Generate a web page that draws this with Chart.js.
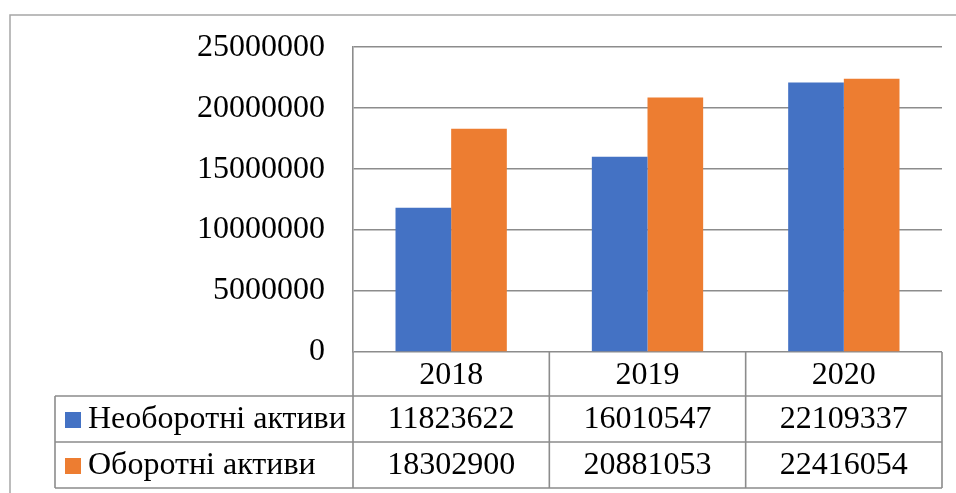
<!DOCTYPE html>
<html>
<head>
<meta charset="utf-8">
<script src="https://cdn.jsdelivr.net/npm/chart.js@4/dist/chart.umd.min.js"></script>
<style>
  html, body { margin: 0; padding: 0; background: #ffffff; }
  #wrap { width: 956px; height: 493px; position: relative; }
</style>
</head>
<body>
<div id="wrap"><canvas id="c" width="956" height="493"></canvas></div>
<script>
const categories = ['2018', '2019', '2020'];
const seriesNames = ['Необоротні активи', 'Оборотні активи'];
const nonCurrentAssets = [11823622, 16010547, 22109337];
const currentAssets = [18302900, 20881053, 22416054];
const seriesColors = ['#4472C4', '#ED7D31'];
const yMin = 0, yMax = 25000000, yStep = 5000000;

const FONT = '"Liberation Serif", "Times New Roman", serif';
const FONT_SIZE = 32;
const GRID = '#8c8c8c';

const tablePlugin = {
  id: 'dataTable',
  beforeDraw(chart) {
    const ctx = chart.ctx;
    ctx.save();
    ctx.fillStyle = '#ffffff';
    ctx.fillRect(0, 0, chart.width, chart.height);
    ctx.strokeStyle = '#a6a6a6';
    ctx.lineWidth = 1.5;
    ctx.beginPath();
    ctx.moveTo(10, chart.height);
    ctx.lineTo(10, 15);
    ctx.lineTo(chart.width, 15);
    ctx.stroke();
    ctx.restore();
  },
  afterDraw(chart) {
    const ctx = chart.ctx;
    const x = chart.scales.x;
    const area = chart.chartArea;
    const n = categories.length;
    const colW = (area.right - area.left) / n;
    const rowTop = area.bottom;
    const catRowH = 44;
    const rowH = 46;
    const tableLeft = 55;
    const r1 = rowTop + catRowH;
    const r2 = r1 + rowH;
    const r3 = r2 + rowH;
    ctx.save();
    ctx.strokeStyle = GRID;
    ctx.lineWidth = 1.6;
    ctx.beginPath();
    [r1, r2, r3].forEach(y => { ctx.moveTo(tableLeft, y); ctx.lineTo(area.right, y); });
    for (let i = 0; i <= n; i++) {
      const xx = area.left + i * colW;
      ctx.moveTo(xx, rowTop);
      ctx.lineTo(xx, r3);
    }
    ctx.moveTo(tableLeft, r1);
    ctx.lineTo(tableLeft, r3);
    ctx.stroke();

    ctx.fillStyle = '#000000';
    ctx.font = FONT_SIZE + 'px ' + FONT;
    ctx.textAlign = 'center';
    ctx.textBaseline = 'middle';
    categories.forEach((c, i) => {
      ctx.fillText(c, x.getPixelForValue(i), rowTop + catRowH / 2 + 2);
    });
    const rows = [nonCurrentAssets, currentAssets];
    const tops = [r1, r2];
    rows.forEach((vals, s) => {
      const cy = tops[s] + rowH / 2 + 1;
      vals.forEach((v, i) => {
        ctx.textAlign = 'center';
        ctx.fillText(String(v), x.getPixelForValue(i), cy);
      });
      ctx.fillStyle = seriesColors[s];
      ctx.fillRect(65, cy - 8, 16, 16);
      ctx.fillStyle = '#000000';
      ctx.textAlign = 'left';
      ctx.fillText(seriesNames[s], 88, cy);
    });
    ctx.restore();
  }
};

new Chart(document.getElementById('c'), {
  type: 'bar',
  data: {
    labels: categories,
    datasets: [
      { label: seriesNames[0], data: nonCurrentAssets, backgroundColor: seriesColors[0], barPercentage: 1, categoryPercentage: 0.567 },
      { label: seriesNames[1], data: currentAssets, backgroundColor: seriesColors[1], barPercentage: 1, categoryPercentage: 0.567 }
    ]
  },
  options: {
    responsive: false,
    animation: false,
    layout: { padding: { top: 46, right: 14, bottom: 141, left: 0 } },
    plugins: { legend: { display: false }, tooltip: { enabled: false } },
    scales: {
      x: { display: false },
      y: {
        min: yMin, max: yMax,
        afterFit(scale) { scale.width = 353; },
        ticks: {
          stepSize: yStep,
          color: '#000000',
          font: { family: FONT, size: FONT_SIZE },
          padding: 28,
          callback: v => String(v)
        },
        grid: { color: GRID, lineWidth: 1.6, drawTicks: false },
        border: { display: true, color: GRID, width: 1.6 }
      }
    }
  },
  plugins: [tablePlugin]
});
</script>
</body>
</html>
